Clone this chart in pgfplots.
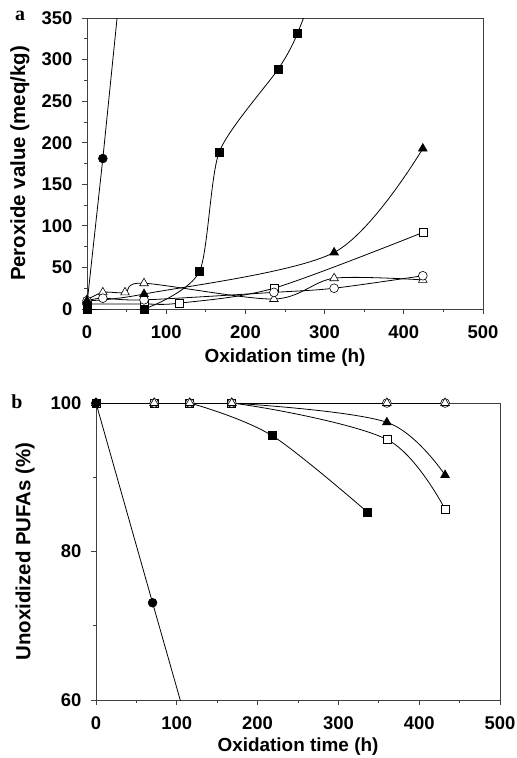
\documentclass[border=0pt]{standalone}
\usepackage{fontspec}
\setmainfont{Liberation Sans}
\newfontfamily\serifbf{Liberation Serif}
\usepackage{pgfplots}
\pgfplotsset{compat=1.18}
\begin{document}
\begin{tikzpicture}
\useasboundingbox (0,0) rectangle (517bp,-758bp);
\pgfplotsset{
  common/.style={
    scale only axis,
    axis line style={black!75, line width=0.8pt},
    tick align=outside,
    xtick pos=bottom, ytick pos=left,
    major tick length=5bp, minor tick length=3bp,
    every tick/.style={black!75, line width=0.8pt},
    ticklabel style={font=\fontsize{18.5}{20}\selectfont\bfseries},
    xticklabel style={yshift=-8bp},
    yticklabel style={xshift=-6bp},
    /pgf/number format/assume math mode=true,
    every axis plot/.append style={black, line width=0.8pt},
    clip=true,
  },
  fm/.style={mark=*, mark size=4.4bp, mark options={fill=black, line width=0.6pt}},
  om/.style={mark=*, mark size=4.4bp, mark options={fill=white, line width=0.6pt}},
  fs/.style={mark=square*, mark size=4bp, mark options={fill=black, line width=0.6pt}},
  os/.style={mark=square*, mark size=4bp, mark options={fill=white, line width=0.6pt}},
  ft/.style={mark=triangle*, mark size=5bp, mark options={fill=black, line width=0.6pt}},
  ot/.style={mark=triangle*, mark size=5bp, mark options={fill=white, line width=0.6pt}},
}
% Panel a
\begin{axis}[common,
  at={(87bp,-309bp)}, anchor=south west,
  width=396bp, height=291bp,
  xmin=0, xmax=500, ymin=0, ymax=350,
  xtick={0,100,...,500}, minor xtick={50,150,...,450},
  ytick={0,50,...,350}, minor ytick={25,75,...,325},
  xlabel={Oxidation time (h)},
  ylabel={Peroxide value (meq/kg)},
  xlabel style={at={(axis description cs:0.5,-0.1684)}, anchor=center, font=\fontsize{19}{20}\selectfont\bfseries},
  ylabel style={at={(axis description cs:-0.1692,0.5)}, anchor=center, font=\fontsize{20.5}{22}\selectfont\bfseries},
]
\addplot[os, smooth] coordinates {(0,6) (72,6) (116,7) (236,25) (424,92)};
\addplot[ot, smooth] coordinates {(0,11) (20,20) (48,20) (72,31) (236,12) (312,37) (424,35)};
\addplot[om, smooth] coordinates {(0,10) (20,13) (72,11) (236,20) (312,25) (424,40)};
\addplot[ft, smooth] coordinates {(0,10) (72,18) (312,68) (424,193)};
\addplot[fs, smooth, tension=0.4] coordinates {(0,0) (72,0) (142,45) (167,189) (241,288) (266,332) (312,450)};
\addplot[fm] coordinates {(0,6) (20,181) (72,670)};
\end{axis}
% Panel b
\begin{axis}[common,
  at={(96bp,-700bp)}, anchor=south west,
  width=404bp, height=297bp,
  xmin=0, xmax=500, ymin=60, ymax=100,
  xtick={0,100,...,500}, minor xtick={50,150,...,450},
  ytick={60,80,100}, minor ytick={70,90},
  xlabel={Oxidation time (h)},
  ylabel={Unoxidized PUFAs (\%)},
  xlabel style={at={(axis description cs:0.5,-0.158)}, anchor=center, font=\fontsize{19}{20}\selectfont\bfseries},
  ylabel style={at={(axis description cs:-0.1757,0.5)}, anchor=center, font=\fontsize{20.5}{22}\selectfont\bfseries},
]
% curves
\addplot[smooth] coordinates {(0,100) (72,100) (116,100) (218,95.6) (336,85.3)};
\addplot[smooth] coordinates {(0,100) (168,100) (360,97.4) (432,90.3)};
\addplot[smooth] coordinates {(0,100) (168,100) (360,95.1) (432,85.7)};
\addplot[black] coordinates {(0,100) (70,73.1) (116,55.5)};
\addplot[black] coordinates {(0,100) (432,100)};
% markers
\addplot[fs, only marks] coordinates {(0,100) (72,100) (116,100) (168,100) (218,95.6) (336,85.3)};
\addplot[ft, only marks] coordinates {(0,100) (72,100) (116,100) (168,100) (360,97.4) (432,90.3)};
\addplot[os, only marks] coordinates {(0,100) (72,100) (116,100) (168,100) (360,95.1) (432,85.7)};
\addplot[om, only marks] coordinates {(0,100) (72,100) (116,100) (168,100) (360,100) (432,100)};
\addplot[ot, only marks] coordinates {(0,100) (72,100) (116,100) (168,100) (360,100) (432,100)};
\addplot[fm, only marks] coordinates {(0,100) (70,73.1) (116,55.5)};
\end{axis}
\node[font=\fontsize{20}{22}\selectfont\serifbf\bfseries] at (20bp,-16bp) {a};
\node[font=\fontsize{20}{22}\selectfont\serifbf\bfseries] at (17bp,-402bp) {b};
\end{tikzpicture}
\end{document}
